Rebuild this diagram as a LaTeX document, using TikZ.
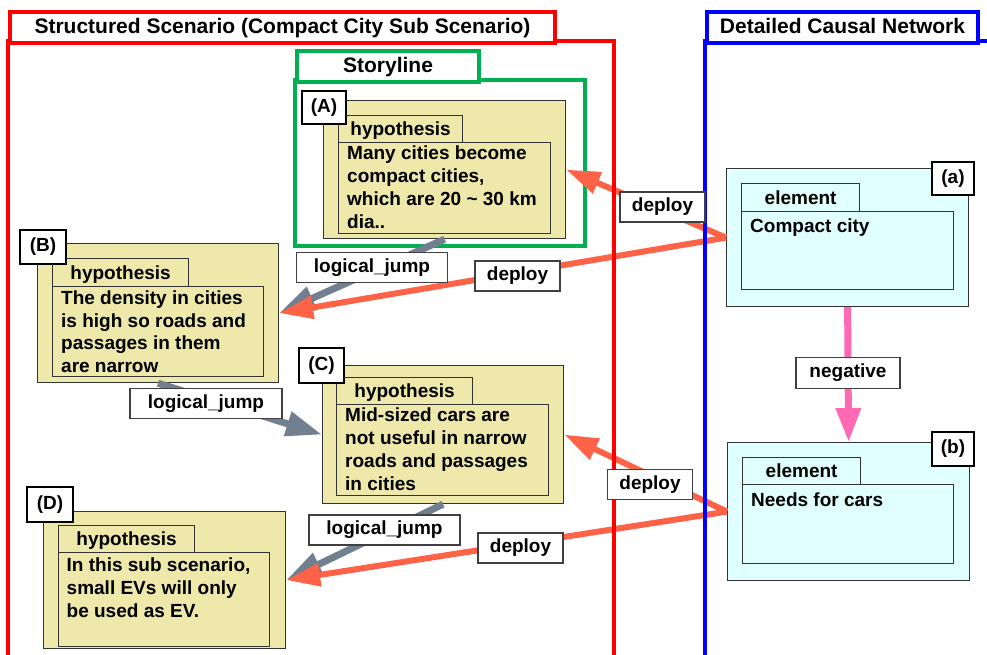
\documentclass[tikz,border=0pt]{standalone}
\usepackage{fontspec}
\setmainfont{Liberation Sans}
\usetikzlibrary{arrows.meta}
\definecolor{hypfill}{RGB}{238,232,170}
\definecolor{elemfill}{RGB}{224,255,255}
\definecolor{jumpcol}{RGB}{112,128,144}
\definecolor{deploycol}{RGB}{255,99,71}
\definecolor{negcol}{RGB}{255,105,180}
\definecolor{storygreen}{RGB}{0,176,80}
\newcommand\bodyfnt{\fontsize{19}{22.7}\selectfont\bfseries}
\newcommand\titlefnt{\fontsize{21}{25}\selectfont\bfseries}
\begin{document}
\begin{tikzpicture}[x=1pt,y=-1pt,
  box/.style={draw=black!80, line width=1.2pt, inner sep=0pt, anchor=north west},
  hyp/.style={box, fill=hypfill},
  elem/.style={box, fill=elemfill},
  tabtxt/.style={font=\bodyfnt, text height=16pt, text depth=3pt},
  tag/.style={draw=black, line width=1.2pt, fill=white, inner sep=0pt, font=\bodyfnt},
  edgelbl/.style={draw=black!75, line width=1.2pt, fill=white, inner sep=0pt, minimum height=30pt, font=\bodyfnt},
  bodytxt/.style={anchor=north west, inner sep=0pt, align=left, font=\bodyfnt},
  jump/.style={draw=jumpcol, line width=7pt, -{Triangle[length=36pt,width=24pt]}},
  deploy/.style={draw=deploycol, line width=6pt, -{Triangle[length=34pt,width=22pt]}},
  negarrow/.style={draw=negcol, line width=7pt, -{Triangle[length=34pt,width=24pt]}},
  frametab/.style={line width=4pt, fill=white, inner sep=0pt, anchor=north west, font=\titlefnt, text height=17pt, text depth=4pt}
]
\useasboundingbox (0,0) rectangle (987,655);
\fill[white] (0,0) rectangle (987,655);

% Storyline frame
\draw[storygreen, line width=4pt] (295,80) rectangle (585,246);
\node[frametab, draw=storygreen, minimum width=182pt, minimum height=31pt] (storytab) at (295,49) {Storyline};

% Hypothesis A
\node[hyp, minimum width=242pt, minimum height=138pt] (Aout) at (323,100) {};
\node[hyp, minimum width=124pt, minimum height=27pt, tabtxt] (Atab) at (338,115) {hypothesis};
\node[hyp, minimum width=212pt, minimum height=91pt] (Ain) at (338,142) {};
\node[bodytxt] (Atxt) at (347,146) {Many cities become\\compact cities,\\which are 20 \textasciitilde\ 30 km\\dia..};
\node[tag, minimum width=44pt, minimum height=33pt] (Atag) at (324,107.5) {(A)};

% Hypothesis B
\node[hyp, minimum width=241pt, minimum height=139pt] (Bout) at (37,243) {};
\node[hyp, minimum width=136pt, minimum height=28pt, tabtxt] (Btab) at (52,258) {hypothesis};
\node[hyp, minimum width=211pt, minimum height=90pt] (Bin) at (52,286) {};
\node[bodytxt] (Btxt) at (61,290.5) {The density in cities\\is high so roads and\\passages in them\\are narrow};
\node[tag, minimum width=46pt, minimum height=34pt] (Btag) at (43,247) {(B)};

% Hypothesis C
\node[hyp, minimum width=241pt, minimum height=138pt] (Cout) at (322,365) {};
\node[hyp, minimum width=136pt, minimum height=27pt, tabtxt] (Ctab) at (336,377) {hypothesis};
\node[hyp, minimum width=212pt, minimum height=91pt] (Cin) at (336,404) {};
\node[bodytxt] (Ctxt) at (345,408) {Mid-sized cars are\\not useful in narrow\\roads and passages\\in cities};
\node[tag, minimum width=45pt, minimum height=35pt] (Ctag) at (321.5,365.5) {(C)};

% Hypothesis D
\node[hyp, minimum width=242pt, minimum height=137pt] (Dout) at (43,511) {};
\node[hyp, minimum width=136pt, minimum height=27pt, tabtxt] (Dtab) at (58,525) {hypothesis};
\node[hyp, minimum width=211pt, minimum height=94pt] (Din) at (58,552) {};
\node[bodytxt] (Dtxt) at (66.5,558) {In this sub scenario,\\small EVs will only\\be used as EV.};
\node[tag, minimum width=46pt, minimum height=35pt] (Dtag) at (50,504.5) {(D)};

% Element a
\node[elem, minimum width=242pt, minimum height=138pt] (aout) at (726,168) {};
\node[elem, minimum width=118pt, minimum height=28pt, tabtxt] (atab) at (741,183) {element};
\node[elem, minimum width=212pt, minimum height=78pt] (ain) at (741,211) {};
\node[bodytxt] (atxt) at (750,219) {Compact city};
\node[tag, minimum width=42pt, minimum height=33pt] (atag) at (953,178.5) {(a)};

% Element b
\node[elem, minimum width=242pt, minimum height=138pt] (bout) at (727,442) {};
\node[elem, minimum width=118pt, minimum height=27pt, tabtxt] (btab) at (742,457) {element};
\node[elem, minimum width=211pt, minimum height=79pt] (bin) at (742,484) {};
\node[bodytxt] (btxt) at (751,493) {Needs for cars};
\node[tag, minimum width=42pt, minimum height=34pt] (btag) at (953,449) {(b)};

% Connectors
\draw[jump] (Aout.south) -- (Bout.east);
\draw[jump] (Bout.south) -- (Cout.west);
\draw[jump] (Cout.south) -- (Dout.east);
\draw[deploy] (aout.west) -- (Aout.east);
\draw[deploy] (aout.west) -- (Bout.east);
\draw[deploy] (bout.west) -- (Cout.east);
\draw[deploy] (bout.west) -- (Dout.east);
\draw[negarrow] (aout.south) -- (bout.north);

% Outer frames
\draw[red, line width=4pt] (8,41) rectangle (614,658);
\node[frametab, draw=red, minimum width=545pt, minimum height=31pt] (redtab) at (8,10) {Structured Scenario (Compact City Sub Scenario)};
\draw[blue, line width=4pt] (705,41) rectangle (995,658);
\node[frametab, draw=blue, minimum width=271pt, minimum height=31pt] (bluetab) at (705,10) {Detailed Causal Network};

% Connector labels
\node[edgelbl, minimum width=151pt] (ljA) at (372,267.5) {logical\_jump};
\node[edgelbl, minimum width=152pt] (ljB) at (206,403.5) {logical\_jump};
\node[edgelbl, minimum width=151pt] (ljC) at (384.5,530) {logical\_jump};
\node[edgelbl, minimum width=85pt] (depA) at (662.5,207) {deploy};
\node[edgelbl, minimum width=85pt] (depB) at (517.5,276) {deploy};
\node[edgelbl, minimum width=85pt] (depC) at (650,484.5) {deploy};
\node[edgelbl, minimum width=85pt] (depD) at (520.5,548) {deploy};
\node[edgelbl, minimum width=104pt, minimum height=31pt] (negl) at (848,373) {negative};
\end{tikzpicture}
\end{document}
